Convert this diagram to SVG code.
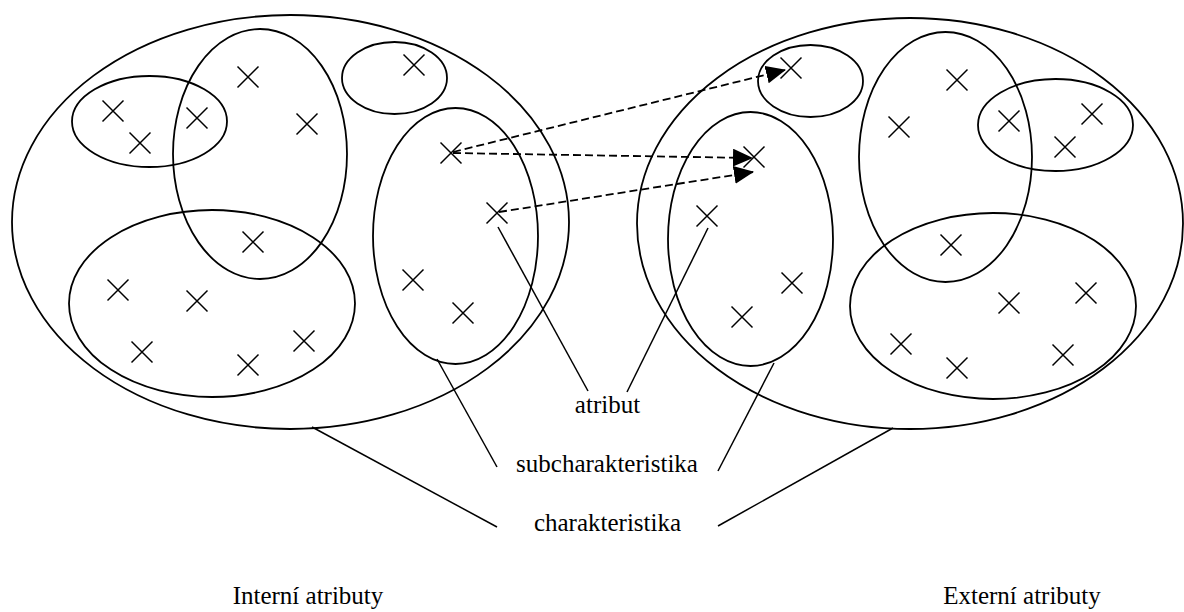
<svg xmlns="http://www.w3.org/2000/svg" width="1184" height="612" viewBox="0 0 1184 612">
<style>
.e{fill:none;stroke:#000;stroke-width:1.8}
.x{fill:none;stroke:#000;stroke-width:1.5}
.d{fill:none;stroke:#000;stroke-width:1.8;stroke-dasharray:8 4}
.l{fill:none;stroke:#000;stroke-width:1.5}
text{font-family:"Liberation Serif","Times New Roman",serif;font-size:25px;fill:#000;text-anchor:middle}
</style>
<defs>
<path id="cx" d="M-10.5,-10.5 L10.5,10.5 M-10.5,10.5 L10.5,-10.5"/>
<marker id="ah" markerUnits="userSpaceOnUse" markerWidth="20" markerHeight="18" refX="19" refY="9" orient="auto" viewBox="0 0 20 18">
<path d="M0,0 L20,9 L0,18 z" fill="#000"/>
</marker>
</defs>
<rect width="1184" height="612" fill="#fff"/>

<g id="internal">
<g id="int-char"><ellipse class="e" cx="290.5" cy="222" rx="278.5" ry="207"/></g>
<g id="int-sub1"><ellipse class="e" cx="149.5" cy="121.5" rx="77.5" ry="45.5"/></g>
<g id="int-sub2"><ellipse class="e" cx="260" cy="154" rx="87" ry="125"/></g>
<g id="int-sub3"><ellipse class="e" cx="394.5" cy="78" rx="52.5" ry="36"/></g>
<g id="int-sub4"><ellipse class="e" cx="212" cy="303.5" rx="143" ry="93.5"/></g>
<g id="int-sub5"><ellipse class="e" cx="455.5" cy="236" rx="82.5" ry="128"/></g>
<g id="int-attrs" class="x">
<use href="#cx" x="113" y="111"/>
<use href="#cx" x="140" y="143"/>
<use href="#cx" x="197" y="118"/>
<use href="#cx" x="248" y="77"/>
<use href="#cx" x="307" y="124"/>
<use href="#cx" x="414" y="65"/>
<use href="#cx" x="451" y="153"/>
<use href="#cx" x="497" y="213"/>
<use href="#cx" x="253" y="242"/>
<use href="#cx" x="118" y="290"/>
<use href="#cx" x="197" y="301"/>
<use href="#cx" x="142" y="352"/>
<use href="#cx" x="248" y="365"/>
<use href="#cx" x="304" y="341"/>
<use href="#cx" x="413" y="280"/>
<use href="#cx" x="463" y="313"/>
</g>
</g>

<g id="external">
<g id="ext-char"><ellipse class="e" cx="910" cy="223.5" rx="273" ry="205.5"/></g>
<g id="ext-sub1"><ellipse class="e" cx="810.5" cy="81" rx="52.5" ry="36"/></g>
<g id="ext-sub2"><ellipse class="e" cx="750.5" cy="239" rx="82.5" ry="127"/></g>
<g id="ext-sub3"><ellipse class="e" cx="945.5" cy="157" rx="86.5" ry="125"/></g>
<g id="ext-sub4"><ellipse class="e" cx="1055.5" cy="125" rx="77.5" ry="46"/></g>
<g id="ext-sub5"><ellipse class="e" cx="993" cy="306" rx="143" ry="93"/></g>
<g id="ext-attrs" class="x">
<use href="#cx" x="791" y="68"/>
<use href="#cx" x="754" y="157"/>
<use href="#cx" x="707" y="216"/>
<use href="#cx" x="792" y="283"/>
<use href="#cx" x="742" y="317"/>
<use href="#cx" x="957" y="80"/>
<use href="#cx" x="899" y="127"/>
<use href="#cx" x="1009" y="121"/>
<use href="#cx" x="1092" y="114"/>
<use href="#cx" x="1065" y="147"/>
<use href="#cx" x="951" y="245"/>
<use href="#cx" x="1009" y="303"/>
<use href="#cx" x="1086" y="293"/>
<use href="#cx" x="901" y="344"/>
<use href="#cx" x="957" y="368"/>
<use href="#cx" x="1063" y="355"/>
</g>
</g>

<g id="connectors">
<line class="d" x1="453" y1="152" x2="785" y2="70" marker-end="url(#ah)"/>
<line class="d" x1="453" y1="153" x2="752" y2="158" marker-end="url(#ah)"/>
<line class="d" x1="499" y1="212" x2="753" y2="172" marker-end="url(#ah)"/>
<line class="l" x1="498" y1="227" x2="588" y2="391"/>
<line class="l" x1="708" y1="228" x2="627" y2="392"/>
<line class="l" x1="437" y1="359" x2="497" y2="467"/>
<line class="l" x1="774" y1="363" x2="718" y2="471"/>
<line class="l" x1="312" y1="427" x2="497" y2="527"/>
<line class="l" x1="893" y1="428" x2="718" y2="526"/>
</g>

<g id="labels">
<g id="lbl-atribut"><text x="607.5" y="413">atribut</text></g>
<g id="lbl-sub"><text x="607" y="472">subcharakteristika</text></g>
<g id="lbl-char"><text x="607.5" y="531">charakteristika</text></g>
<g id="lbl-int"><text x="308" y="604">Interní atributy</text></g>
<g id="lbl-ext"><text x="1022" y="604">Externí atributy</text></g>
</g>
</svg>
